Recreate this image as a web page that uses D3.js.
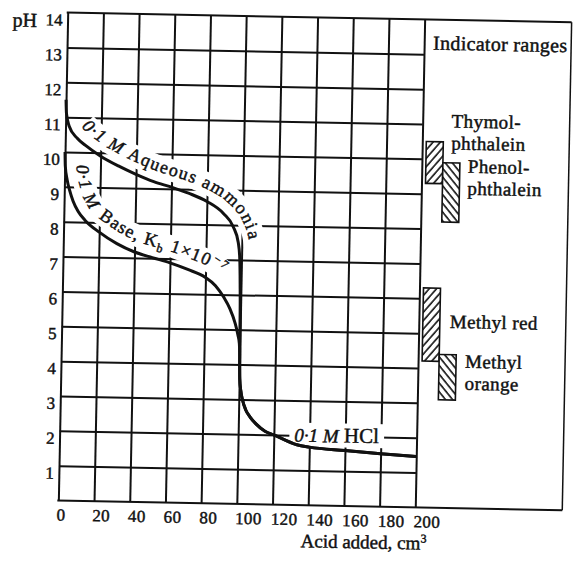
<!DOCTYPE html>
<meta charset="utf-8">
<script src="https://cdn.jsdelivr.net/npm/d3@7"></script>
<style>
  body { margin: 0; background: #fff; }
  svg { display: block; }
  text { font-family: "Liberation Serif", "Times New Roman", serif; fill: #111; }
</style>
<body>
<script>

var width = 573
var height = 562

// axis ticks
var acidTicks = d3.range(0, 201, 20)
var pHTicks = d3.range(1, 15)

// 0.1 M aqueous ammonia, down to the equivalence point
var ammoniaAcid = [0, 0.4, 2, 6.7, 11.4, 20, 30, 40, 50, 60, 70, 80, 89.5, 95, 98, 99, 99.5, 99.8]
var ammoniaPH   = [11.5, 11.1, 10.75, 10.4, 10.2, 9.9, 9.63, 9.4, 9.2, 9.05, 8.88, 8.66, 8.32, 7.95, 7.5, 7.05, 6.3, 5.5]

// 0.1 M base, Kb 1e-7
var baseAcid = [0, 0.3, 1.5, 3, 5, 8, 12, 20, 30, 40, 50, 60, 70, 80, 85.7, 90.5, 94, 97, 98.8, 99.7]
var basePH   = [10, 9.6, 9.2, 8.9, 8.6, 8.3, 8.05, 7.72, 7.4, 7.17, 7.02, 6.88, 6.7, 6.48, 6.25, 5.92, 5.6, 5.2, 4.85, 4.6]

// past the equivalence point both follow excess 0.1 M HCl
var hclAcid = [100, 100.3, 101, 102, 104, 106.5, 110, 115, 120, 133, 140, 160, 180, 200]
var hclPH   = [4.3, 3.6, 3.25, 3.0, 2.7, 2.5, 2.3, 2.1, 2.0, 1.73, 1.67, 1.59, 1.52, 1.46]

// indicator colour-change ranges
var indicatorNames = [["Thymol-", "phthalein"], ["Phenol-", "phthalein"], ["Methyl red"], ["Methyl", "orange"]]
var indicatorLow  = [9.3, 8.2, 4.2, 3.1]
var indicatorHigh = [10.5, 9.9, 6.3, 4.4]

var ink = "#111"

var x = d3.scaleLinear().domain([0, 200]).range([63, 420])
var y = d3.scaleLinear().domain([0, 14]).range([504, 16])
var boxRight = 567

var svg = d3.select("body").append("svg")
            .attr("width", width)
            .attr("height", height)
svg.append("rect").attr("width", width).attr("height", height).attr("fill", "#fff")

var defs = svg.append("defs")
function hatch(id, angle) {
  var p = defs.append("pattern").attr("id", id)
              .attr("patternUnits", "userSpaceOnUse")
              .attr("width", 5.5).attr("height", 5.5)
              .attr("patternTransform", "rotate(" + angle + ")")
  p.append("rect").attr("width", 5.5).attr("height", 5.5).attr("fill", "#fff")
  p.append("line").attr("x1", 1).attr("x2", 1).attr("y1", 0).attr("y2", 5.5)
   .attr("stroke", ink).attr("stroke-width", 1.6)
}
hatch("hatchA", 40)
hatch("hatchB", -40)

// the scanned page sits slightly askew
var g = svg.append("g").attr("transform", "rotate(1.1,241.5,260)")

var gridG = g.append("g")
var labelG = g.append("g")
var curveG = g.append("g")
var panelG = g.append("g")

// grid
var vGrid = gridG.append("g")
     .attr("transform", "translate(0," + y(0) + ")")
     .call(d3.axisBottom(x).tickValues(acidTicks).tickSize(-(y(0) - y(14))).tickFormat(""))
vGrid.select(".domain").remove()
vGrid.selectAll("line").attr("stroke", ink).attr("stroke-width", 2)

var hGrid = gridG.append("g")
     .attr("transform", "translate(" + x(0) + ",0)")
     .call(d3.axisLeft(y).tickValues(d3.range(1, 14)).tickSize(-(x(200) - x(0))).tickFormat(""))
hGrid.select(".domain").remove()
hGrid.selectAll("line").attr("stroke", ink).attr("stroke-width", 2)

// outer frame
gridG.append("line").attr("x1", x(0) - 1).attr("x2", boxRight).attr("y1", y(14)).attr("y2", y(14))
     .attr("stroke", ink).attr("stroke-width", 2)
gridG.append("line").attr("x1", x(0) - 1).attr("x2", boxRight).attr("y1", y(0)).attr("y2", y(0))
     .attr("stroke", ink).attr("stroke-width", 2)
gridG.append("line").attr("x1", boxRight).attr("x2", boxRight).attr("y1", y(14)).attr("y2", y(0))
     .attr("stroke", ink).attr("stroke-width", 1.5)

function heavy(sel) {
  sel.attr("stroke", ink).attr("stroke-width", 0.45)
}

// tick labels
var yAxis = gridG.append("g")
     .attr("transform", "translate(" + x(0) + ",0)")
     .call(d3.axisLeft(y).tickValues(pHTicks).tickSize(0).tickPadding(5))
yAxis.attr("font-size", 17).attr("font-family", null)
yAxis.select(".domain").remove()
yAxis.selectAll("text").attr("dy", "0.74em").attr("fill", ink).call(heavy)

var xAxis = gridG.append("g")
     .attr("transform", "translate(0," + y(0) + ")")
     .call(d3.axisBottom(x).tickValues(acidTicks).tickSize(0))
xAxis.attr("font-size", 17).attr("font-family", null)
xAxis.select(".domain").remove()
xAxis.selectAll("text").attr("y", 20).attr("dy", 0).attr("dx", -2)
     .attr("text-anchor", "start").attr("letter-spacing", 0.4).attr("fill", ink).call(heavy)

gridG.append("text").attr("x", 8).attr("y", 31).attr("font-size", 20).call(heavy).text("pH")

var xTitle = gridG.append("text").attr("x", 306).attr("y", 546).attr("font-size", 19).call(heavy)
xTitle.append("tspan").text("Acid added, cm")
xTitle.append("tspan").attr("font-size", 12).attr("dy", -7).text("3")

// curves
var line = d3.line().x(function(d) { return x(d[0]) }).y(function(d) { return y(d[1]) }).curve(d3.curveMonotoneX)
var tail = d3.zip(hclAcid, hclPH)
var ammoniaPath = curveG.append("path")
     .attr("d", line(d3.zip(ammoniaAcid, ammoniaPH).concat(tail)))
     .attr("fill", "none").attr("stroke", ink).attr("stroke-width", 3)
var basePath = curveG.append("path")
     .attr("d", line(d3.zip(baseAcid, basePH).concat(tail)))
     .attr("fill", "none").attr("stroke", ink).attr("stroke-width", 3)

function offsetAtPH(node, ph) {
  var lo = 0, hi = node.getTotalLength(), target = y(ph)
  for (var i = 0; i < 40; i++) {
    var mid = (lo + hi) / 2
    if (node.getPointAtLength(mid).y < target) lo = mid; else hi = mid
  }
  return lo
}

// points of a curve shifted to its upper-right side
function offsetPts(node, fromPH, toPH, dist) {
  var a = offsetAtPH(node, fromPH), b = offsetAtPH(node, toPH), pts = []
  for (var l = a; l <= b; l += 4) {
    var p0 = node.getPointAtLength(Math.max(0, l - 6)), p1 = node.getPointAtLength(l + 6)
    var dx = p1.x - p0.x, dy = p1.y - p0.y, n = Math.hypot(dx, dy)
    var p = node.getPointAtLength(l)
    pts.push([p.x + dy / n * dist, p.y - dx / n * dist])
  }
  return pts
}

function runs(parent, parts) {
  parts.forEach(function(p) {
    var s = parent.append("tspan").text(p.t)
    if (p.it) s.attr("font-style", "italic")
    if (p.fs) s.attr("font-size", p.fs)
    if (p.dy) s.attr("dy", p.dy)
    if (p.dx) s.attr("dx", p.dx)
  })
}

var smooth = d3.line().curve(d3.curveBasis)

// text running along a curve, with a white band under it that knocks the grid out
function curveLabel(id, node, fromPH, dist, spacing, parts) {
  var pts = offsetPts(node, fromPH, 4.5, dist)
  defs.append("path").attr("id", id).attr("d", smooth(pts))
  var t = labelG.append("text").attr("font-size", 18).attr("letter-spacing", spacing).call(heavy)
  runs(t.append("textPath").attr("href", "#" + id), parts)
  var len = t.node().getComputedTextLength() + 8, run = 0, k = 1
  while (k < pts.length && run < len) {
    run += Math.hypot(pts[k][0] - pts[k - 1][0], pts[k][1] - pts[k - 1][1])
    k++
  }
  var band = offsetPts(node, fromPH, 4.5, dist + 5).slice(0, k)
  labelG.insert("path", ":first-child").attr("d", smooth(band))
        .attr("fill", "none").attr("stroke", "#fff").attr("stroke-width", 22)
}

curveLabel("ammoniaLabel", ammoniaPath.node(), 10.55, 11, 1.4, [
  {t: "0·1 M ", it: true}, {t: "Aqueous ammonia"}
])
curveLabel("baseLabel", basePath.node(), 9.6, 11, 1.3, [
  {t: "0·1 M ", it: true}, {t: "Base, K", dx: 4}, {t: "b", fs: 12, dy: 4}, {t: " 1×10", dy: -4}, {t: "−7", fs: 12, dy: -7}
])

var t3 = labelG.append("text").attr("x", x(131.5)).attr("y", y(1.82)).attr("font-size", 19).call(heavy)
runs(t3, [{t: "0·1 M", it: true}, {t: " HCl", fs: 21}])
var bb = t3.node().getBBox()
labelG.insert("rect", ":first-child").attr("x", bb.x - 5).attr("y", bb.y)
      .attr("width", bb.width + 10).attr("height", bb.height).attr("fill", "#fff")

// indicator panel
panelG.append("text").attr("x", 429).attr("y", 46).attr("font-size", 20).attr("letter-spacing", 0.3)
      .call(heavy).text("Indicator ranges")

var cols = [424, 441, 424, 441]
var fills = ["url(#hatchA)", "url(#hatchB)", "url(#hatchA)", "url(#hatchB)"]
panelG.selectAll("rect.ind").data(indicatorLow).join("rect").attr("class", "ind")
      .attr("x", function(d, i) { return cols[i] })
      .attr("width", 17)
      .attr("y", function(d, i) { return y(indicatorHigh[i]) })
      .attr("height", function(d, i) { return y(d) - y(indicatorHigh[i]) })
      .attr("fill", function(d, i) { return fills[i] })
      .attr("stroke", ink).attr("stroke-width", 1.6)

// label placement next to each bar
var labelX = [449, 466, 451, 467]
var labelTop = [123.5, 168.5, 324, 363.5]
indicatorNames.forEach(function(lines, i) {
  lines.forEach(function(s, j) {
    panelG.append("text").attr("x", labelX[i]).attr("y", labelTop[i] + j * 22)
          .attr("font-size", 19).attr("letter-spacing", 0.4).call(heavy).text(s)
  })
})

</script>
</body>
